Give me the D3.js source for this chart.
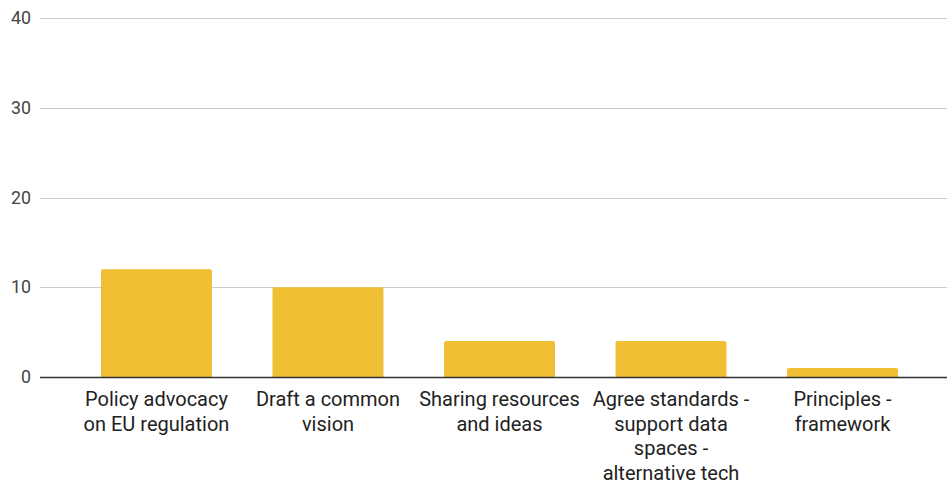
<!DOCTYPE html>
<html>
<head>
<meta charset="utf-8">
<script src="https://cdn.jsdelivr.net/npm/d3@7"></script>
<style>
  html, body { margin: 0; padding: 0; background: #fff; }
  svg { display: block; font-family: Roboto, "Noto Sans", sans-serif; }
</style>
</head>
<body>
<svg id="chart" width="947" height="485"></svg>
<script>
// Responses per activity
const categories = [
  ["Policy advocacy", "on EU regulation"],
  ["Draft a common", "vision"],
  ["Sharing resources", "and ideas"],
  ["Agree standards -", "support data", "spaces -", "alternative tech"],
  ["Principles -", "framework"]
];
const values = [12, 10, 4, 4, 1];
const yTicks = [0, 10, 20, 30, 40];

const svg = d3.select("#chart");
const gridLeft = 40, gridRight = 947;

const y = d3.scaleLinear().domain([0, 40]).range([377, 18]);
const x = d3.scaleBand()
  .domain(d3.range(categories.length))
  .range([101, 898])
  .paddingInner(0.353)
  .paddingOuter(0);

// horizontal gridlines
svg.append("g")
  .selectAll("line")
  .data(yTicks.filter(d => d !== 0))
  .join("line")
  .attr("x1", gridLeft).attr("x2", gridRight)
  .attr("y1", d => Math.round(y(d)) + 0.5).attr("y2", d => Math.round(y(d)) + 0.5)
  .attr("stroke", "#cccccc").attr("stroke-width", 1);

// y tick labels
const yAxis = d3.axisLeft(y).tickValues(yTicks).tickSize(0).tickPadding(0);
const ya = svg.append("g").attr("transform", "translate(31,0)").call(yAxis);
ya.select(".domain").remove();
ya.selectAll("text")
  .attr("font-family", "Roboto, sans-serif")
  .attr("font-size", 17.8)
  .attr("fill", "#444");

// bars with slightly rounded tops
const r = 2;
svg.append("g")
  .selectAll("path")
  .data(values)
  .join("path")
  .attr("fill", "#f0bf33")
  .attr("d", (d, i) => {
    const x0 = x(i), x1 = x(i) + x.bandwidth();
    const y0 = y(0), y1 = y(d);
    return `M${x0},${y0}V${y1 + r}Q${x0},${y1} ${x0 + r},${y1}H${x1 - r}Q${x1},${y1} ${x1},${y1 + r}V${y0}Z`;
  });

// baseline
svg.append("line")
  .attr("x1", gridLeft).attr("x2", gridRight)
  .attr("y1", y(0) + 0.5).attr("y2", y(0) + 0.5)
  .attr("stroke", "#333").attr("stroke-width", 1.3);

// category labels
const lab = svg.append("g")
  .selectAll("text")
  .data(categories)
  .join("text")
  .attr("x", (d, i) => x(i) + x.bandwidth() / 2)
  .attr("y", 406)
  .attr("text-anchor", "middle")
  .attr("font-size", 20)
  .attr("fill", "#222");
lab.selectAll("tspan")
  .data(d => d)
  .join("tspan")
  .attr("x", function () { return this.parentNode.getAttribute("x"); })
  .attr("dy", (d, j) => j === 0 ? 0 : 24.7)
  .text(d => d);
</script>
</body>
</html>
